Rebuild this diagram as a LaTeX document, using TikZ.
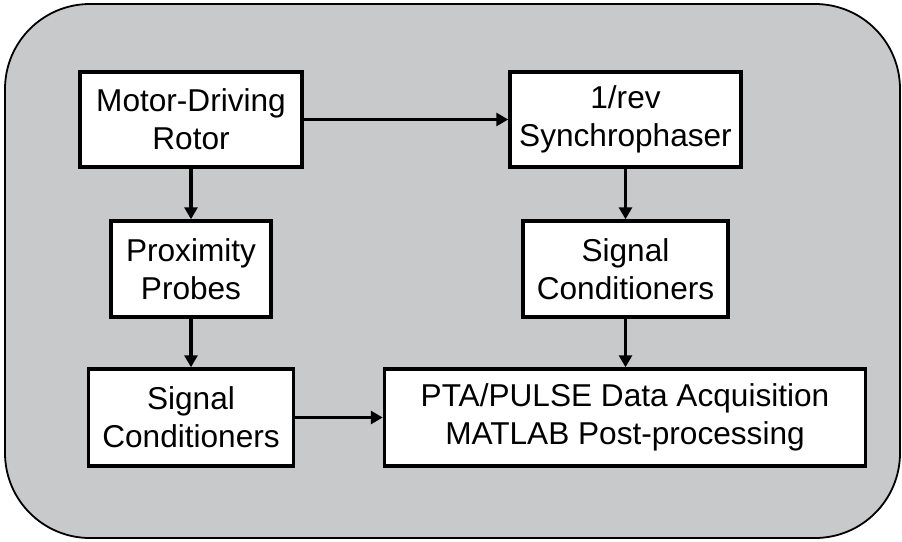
\documentclass[tikz,border=0pt]{standalone}
\usepackage{fontspec}
\setmainfont{Liberation Sans}
\usetikzlibrary{arrows.meta}
\definecolor{bggrey}{RGB}{200,201,203}
\begin{document}
\begin{tikzpicture}[x=1pt,y=-1pt,
  blk/.style={draw=black,fill=white,line width=3.5pt,inner sep=0pt,align=center,
    font=\fontsize{31.6}{38}\selectfont},
  conn/.style={line width=3.5pt,-{Triangle[length=12pt,width=13pt]}}]
\useasboundingbox (0,0) rectangle (902,541);
\path[draw=black,fill=bggrey,line width=1.8pt,rounded corners=85pt] (5,4) rectangle (900,538);
\node[blk,minimum width=222pt,minimum height=95pt] (motor) at (191,119.5) {Motor-Driving\\Rotor};
\node[blk,minimum width=231pt,minimum height=95pt] (sync) at (625.5,119.5) {1/rev\\Synchrophaser};
\node[blk,minimum width=160pt,minimum height=96pt] (prox) at (191,269) {Proximity\\Probes};
\node[blk,minimum width=205pt,minimum height=96pt] (scr) at (625.5,269) {Signal\\Conditioners};
\node[blk,minimum width=205pt,minimum height=97pt] (scl) at (191,417.5) {Signal\\Conditioners};
\node[blk,minimum width=481pt,minimum height=97pt] (pta) at (625,417.5) {PTA/PULSE Data Acquisition\\MATLAB Post-processing};
\draw[conn] (motor.east) -- (sync.west);
\draw[conn] (motor.south) -- (prox.north);
\draw[conn] (prox.south) -- (scl.north);
\draw[conn] (sync.south) -- (scr.north);
\draw[conn] (scr.south) -- (scr.south |- pta.north);
\draw[conn] (scl.east) -- (pta.west);
\end{tikzpicture}
\end{document}
